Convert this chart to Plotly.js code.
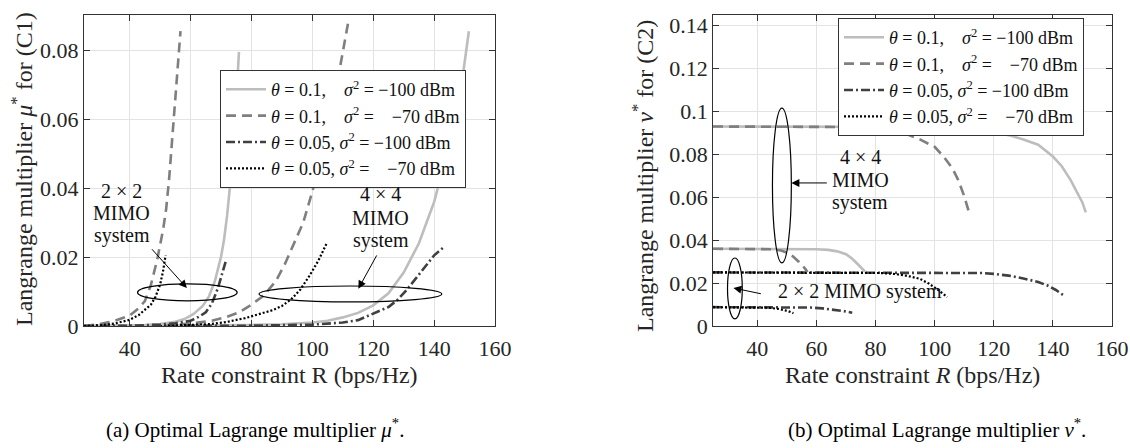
<!DOCTYPE html>
<html>
<head>
<meta charset="utf-8">
<script src="https://cdn.plot.ly/plotly-3.0.1.min.js"></script>
<style>
html,body{margin:0;padding:0;background:#fff;}
#chart{width:1130px;height:448px;}
</style>
</head>
<body>
<div id="chart"></div>
<script>
// ---------- Tick labels ----------
const xTicks = [40, 60, 80, 100, 120, 140, 160];
const yTicksA = [0, 0.02, 0.04, 0.06, 0.08];
const yTicksAText = ["0", "0.02", "0.04", "0.06", "0.08"];
const yTicksB = [0, 0.02, 0.04, 0.06, 0.08, 0.1, 0.12, 0.14];
const yTicksBText = ["0", "0.02", "0.04", "0.06", "0.08", "0.1", "0.12", "0.14"];

// ---------- Legend labels ----------
const legendLabels = [
  "<i>θ</i> = 0.1,\u2002\u00A0\u00A0<i>σ</i><sup>2</sup> = −100 dBm",
  "<i>θ</i> = 0.1,\u2002\u00A0\u00A0<i>σ</i><sup>2</sup> =\u2002\u00A0\u00A0−70 dBm",
  "<i>θ</i> = 0.05, <i>σ</i><sup>2</sup> = −100 dBm",
  "<i>θ</i> = 0.05, <i>σ</i><sup>2</sup> =\u2002\u00A0\u00A0−70 dBm"
];

// ---------- (a) mu* : 2x2 MIMO ----------
const a22SolidX  = [25, 35, 45, 50, 55, 58, 61, 64, 66, 68, 70, 71, 72, 73, 74, 75, 75.9];
const a22SolidY  = [0, 0.0001, 0.0003, 0.0006, 0.0012, 0.002, 0.0035, 0.0058, 0.0085, 0.013, 0.02, 0.025, 0.032, 0.041, 0.052, 0.065, 0.0795];
const a22DashX   = [25, 30, 35, 40, 43, 45, 47, 49, 51, 52, 53, 54, 55, 56, 56.7];
const a22DashY   = [0, 0.0005, 0.0015, 0.003, 0.0052, 0.0072, 0.012, 0.019, 0.028, 0.034, 0.043, 0.055, 0.068, 0.078, 0.0855];
const a22DashDotX = [25, 40, 50, 55, 60, 63, 65, 67, 69, 70, 71, 71.8];
const a22DashDotY = [0, 0.0001, 0.0004, 0.0008, 0.0015, 0.0028, 0.004, 0.0065, 0.011, 0.014, 0.017, 0.0195];
const a22DotX    = [25, 30, 35, 40, 43, 45, 47, 48.5, 50, 51, 51.8];
const a22DotY    = [0, 0.0002, 0.0007, 0.0018, 0.0032, 0.0046, 0.0062, 0.0085, 0.012, 0.016, 0.0205];

// ---------- (a) mu* : 4x4 MIMO ----------
const a44SolidX  = [25, 60, 80, 90, 100, 105, 110, 115, 120, 125, 130, 135, 140, 143, 146, 149, 151.4];
const a44SolidY  = [0, 0.0001, 0.0003, 0.0005, 0.001, 0.0015, 0.0025, 0.0038, 0.006, 0.0095, 0.0155, 0.024, 0.036, 0.046, 0.057, 0.07, 0.0855];
const a44DashX   = [25, 50, 60, 67, 72, 76, 80, 84, 88, 91, 94, 97, 100, 103, 106, 109, 111.8];
const a44DashY   = [0, 0.0002, 0.0007, 0.0015, 0.0027, 0.004, 0.0062, 0.0088, 0.013, 0.018, 0.024, 0.030, 0.039, 0.049, 0.06, 0.074, 0.0882];
const a44DashDotX = [25, 80, 100, 110, 115, 120, 125, 128, 131, 134, 137, 140, 143.1];
const a44DashDotY = [0, 0.0001, 0.0004, 0.001, 0.0017, 0.0036, 0.0055, 0.0076, 0.0105, 0.0138, 0.0172, 0.0205, 0.0228];
const a44DotX    = [25, 50, 60, 67, 72, 78, 83, 87, 90, 93, 96, 99, 102, 104.6];
const a44DotY    = [0, 0.0001, 0.0003, 0.0006, 0.0012, 0.0023, 0.0035, 0.0046, 0.0058, 0.0077, 0.0105, 0.0145, 0.019, 0.0238];

// ---------- (b) nu* : 4x4 MIMO ----------
const b44SolidX  = [25, 60, 80, 100, 110, 115, 120, 125, 130, 135, 140, 143, 146, 148, 150, 151.1];
const b44SolidY  = [0.093, 0.093, 0.093, 0.0928, 0.0925, 0.092, 0.0905, 0.089, 0.087, 0.0845, 0.079, 0.0745, 0.068, 0.0625, 0.0575, 0.053];
const b44DashX   = [25, 50, 60, 70, 75, 80, 85, 90, 95, 100, 103, 106, 108, 110, 111.9];
const b44DashY   = [0.093, 0.093, 0.093, 0.0928, 0.0925, 0.092, 0.0912, 0.0897, 0.087, 0.0835, 0.079, 0.0735, 0.068, 0.0605, 0.0517];
const b44DashDotX = [25, 80, 100, 110, 116, 120, 125, 130, 135, 138, 141, 143.4];
const b44DashDotY = [0.025, 0.025, 0.025, 0.0249, 0.0247, 0.0243, 0.0235, 0.0222, 0.0205, 0.019, 0.0168, 0.0145];
const b44DotX    = [25, 60, 75, 82, 87, 91, 95, 98, 101, 104.2];
const b44DotY    = [0.025, 0.025, 0.0249, 0.0247, 0.0242, 0.0233, 0.022, 0.0198, 0.017, 0.0135];

// ---------- (b) nu* : 2x2 MIMO ----------
const b22SolidX  = [25, 50, 60, 64, 67, 70, 72, 74, 76, 76.5];
const b22SolidY  = [0.036, 0.036, 0.0358, 0.0355, 0.0348, 0.0335, 0.0315, 0.0288, 0.026, 0.0252];
const b22DashX   = [25, 40, 45, 48, 50, 52, 54, 56, 57];
const b22DashY   = [0.036, 0.036, 0.0358, 0.0352, 0.0342, 0.0325, 0.030, 0.027, 0.0252];
const b22DashDotX = [25, 50, 58, 62, 66, 69, 72.1];
const b22DashDotY = [0.0088, 0.0088, 0.0086, 0.0082, 0.0076, 0.007, 0.0062];
const b22DotX    = [25, 40, 44, 47, 50, 52.2];
const b22DotY    = [0.0088, 0.0088, 0.0085, 0.008, 0.0071, 0.006];

// ---------- styles ----------
const FONT = "Liberation Serif";
const styles = [
  {color: "#bdbdbd", width: 2.6, dash: "solid"},
  {color: "#7f7f7f", width: 2.6, dash: "10px,6px"},
  {color: "#404040", width: 2.6, dash: "9px,3px,2px,3px"},
  {color: "#000000", width: 2.2, dash: "2px,2px"}
];

function tr(x, y, s, xa, ya, legend, show) {
  return {
    x: x, y: y, type: "scatter", mode: "lines",
    line: {color: styles[s].color, width: styles[s].width, dash: styles[s].dash},
    xaxis: xa, yaxis: ya, legend: legend, legendgroup: legend + s,
    name: legendLabels[s], showlegend: show, hoverinfo: "skip"
  };
}

const traces = [
  tr(a44SolidX, a44SolidY, 0, "x", "y", "legend", true),
  tr(a44DashX, a44DashY, 1, "x", "y", "legend", true),
  tr(a44DashDotX, a44DashDotY, 2, "x", "y", "legend", true),
  tr(a44DotX, a44DotY, 3, "x", "y", "legend", true),
  tr(a22SolidX, a22SolidY, 0, "x", "y", "legend", false),
  tr(a22DashX, a22DashY, 1, "x", "y", "legend", false),
  tr(a22DashDotX, a22DashDotY, 2, "x", "y", "legend", false),
  tr(a22DotX, a22DotY, 3, "x", "y", "legend", false),
  tr(b44SolidX, b44SolidY, 0, "x2", "y2", "legend2", true),
  tr(b44DashX, b44DashY, 1, "x2", "y2", "legend2", true),
  tr(b44DashDotX, b44DashDotY, 2, "x2", "y2", "legend2", true),
  tr(b44DotX, b44DotY, 3, "x2", "y2", "legend2", true),
  tr(b22SolidX, b22SolidY, 0, "x2", "y2", "legend2", false),
  tr(b22DashX, b22DashY, 1, "x2", "y2", "legend2", false),
  tr(b22DashDotX, b22DashDotY, 2, "x2", "y2", "legend2", false),
  tr(b22DotX, b22DotY, 3, "x2", "y2", "legend2", false)
];

function axis(extra) {
  return Object.assign({
    ticks: "inside", ticklen: 6, tickwidth: 1, tickcolor: "#333",
    showline: true, linecolor: "#333", linewidth: 1, mirror: "ticks",
    showgrid: true, gridcolor: "#e3e3e3", gridwidth: 1, zeroline: false,
    tickfont: {family: FONT, size: 22, color: "#262626"},
    automargin: false, fixedrange: true
  }, extra);
}

const yDom = [0.2723, 0.9665];
const layout = {
  width: 1130, height: 448,
  margin: {l: 0, r: 0, t: 0, b: 0},
  paper_bgcolor: "#fff", plot_bgcolor: "#fff",
  font: {family: FONT, color: "#262626"},
  xaxis: axis({domain: [0.0743, 0.4381], range: [25, 160], tickvals: xTicks, anchor: "y", ticklabelstandoff: 3}),
  yaxis: axis({domain: yDom, range: [0, 0.0902], tickvals: yTicksA, ticktext: yTicksAText, anchor: "x"}),
  xaxis2: axis({domain: [0.631, 0.9841], range: [25, 160], tickvals: xTicks, anchor: "y2", ticklabelstandoff: 3}),
  yaxis2: axis({domain: yDom, range: [0, 0.145], tickvals: yTicksB, ticktext: yTicksBText, anchor: "x2"}),
  legend: {
    x: 0.1947, y: 0.8438, xanchor: "left", yanchor: "top",
    bgcolor: "#fff", bordercolor: "#333", borderwidth: 1,
    font: {family: FONT, size: 18, color: "#111"}, itemwidth: 40, tracegroupgap: 0
  },
  legend2: {
    x: 0.7416, y: 0.9598, xanchor: "left", yanchor: "top",
    bgcolor: "#fff", bordercolor: "#333", borderwidth: 1,
    font: {family: FONT, size: 18, color: "#111"}, itemwidth: 40, tracegroupgap: 0
  },
  shapes: [
    {type: "circle", xref: "x", yref: "y", x0: 42.6, x1: 75.3, y0: 0.0073, y1: 0.0122, line: {color: "#000", width: 1.2}},
    {type: "circle", xref: "x", yref: "y", x0: 82.5, x1: 142.5, y0: 0.0070, y1: 0.0116, line: {color: "#000", width: 1.2}},
    {type: "circle", xref: "x2", yref: "y2", x0: 45.1, x1: 51.5, y0: 0.0294, y1: 0.1016, line: {color: "#000", width: 1.2}},
    {type: "circle", xref: "x2", yref: "y2", x0: 29.9, x1: 34.9, y0: 0.0033, y1: 0.0317, line: {color: "#000", width: 1.2}}
  ],
  annotations: []
};

function txt(text, x, y, xref, yref, size, extra) {
  return Object.assign({text: text, x: x, y: y, xref: xref, yref: yref, showarrow: false,
    xanchor: "center", yanchor: "middle", font: {family: FONT, size: size, color: "#111"}}, extra || {});
}
function arrow(xt, yt, xs, ys, xref, yref) {
  return {text: "", x: xt, y: yt, ax: xs, ay: ys, xref: xref, yref: yref, axref: xref, ayref: yref,
    showarrow: true, arrowhead: 2, arrowsize: 1.6, arrowwidth: 1, arrowcolor: "#000", standoff: 0, startstandoff: 0};
}

const titleFont = {family: FONT, size: 24, color: "#262626"};
layout.annotations.push(
  // plot (a) labels
  txt("2 × 2", 37.4, 0.0393, "x", "y", 20),
  txt("MIMO", 37.4, 0.0329, "x", "y", 20),
  txt("system", 37.4, 0.0262, "x", "y", 20),
  txt("4 × 4", 122.4, 0.0384, "x", "y", 20),
  txt("MIMO", 122.4, 0.0314, "x", "y", 20),
  txt("system", 122.4, 0.0247, "x", "y", 20),
  arrow(58.8, 0.011, 46.9, 0.0227, "x", "y"),
  arrow(115.1, 0.0108, 121.4, 0.0209, "x", "y"),
  // plot (b) labels
  txt("4 × 4", 74.8, 0.0788, "x2", "y2", 20),
  txt("MIMO", 74.8, 0.0681, "x2", "y2", 20),
  txt("system", 74.8, 0.0578, "x2", "y2", 20),
  txt("2 × 2 MIMO system", 74.8, 0.0163, "x2", "y2", 20),
  arrow(51.5, 0.0667, 64, 0.0667, "x2", "y2"),
  arrow(31.9, 0.0177, 41.7, 0.0149, "x2", "y2"),
  // axis titles
  txt("Langrange multiplier <i>μ</i><sup>*</sup> for (C1)", 0.0195, 0.6228, "paper", "paper", 24, {textangle: -90, font: titleFont}),
  txt("Langrange multiplier <i>ν</i><sup>*</sup> for (C2)", 0.569, 0.6071, "paper", "paper", 24, {textangle: -90, font: titleFont}),
  txt("Rate constraint R (bps/Hz)", 0.2558, 0.1629, "paper", "paper", 24, {font: titleFont}),
  txt("Rate constraint <i>R</i> (bps/Hz)", 0.8071, 0.1629, "paper", "paper", 24, {font: titleFont}),
  // captions
  txt("(a) Optimal Lagrange multiplier <i>μ</i><sup>*</sup>.", 0.2257, 0.0446, "paper", "paper", 21, {font: {family: FONT, size: 21, color: "#000"}}),
  txt("(b) Optimal Lagrange multiplier <i>ν</i><sup>*</sup>.", 0.8292, 0.0446, "paper", "paper", 21, {font: {family: FONT, size: 21, color: "#000"}})
);

Plotly.newPlot("chart", traces, layout, {staticPlot: true, displayModeBar: false});
</script>
</body>
</html>
